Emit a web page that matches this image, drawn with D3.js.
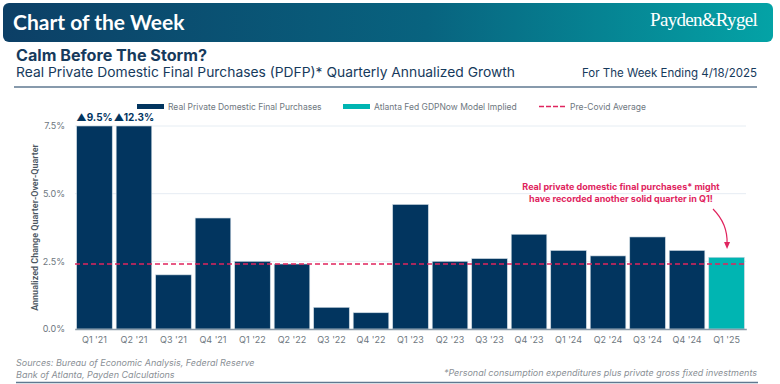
<!DOCTYPE html>
<html>
<head>
<meta charset="utf-8">
<script src="https://cdn.jsdelivr.net/npm/d3@7"></script>
<style>
	body { margin: 0; background: #fff; }
	svg { display: block; font-family: Inter, "Noto Sans", sans-serif; }
</style>
</head>
<body>
<div id="chart"></div>
<script>
// quarters shown on the x axis
const quarters = ["Q1 '21", "Q2 '21", "Q3 '21", "Q4 '21", "Q1 '22", "Q2 '22", "Q3 '22", "Q4 '22",
	"Q1 '23", "Q2 '23", "Q3 '23", "Q4 '23", "Q1 '24", "Q2 '24", "Q3 '24", "Q4 '24", "Q1 '25"];
// real PDFP growth, % annualized (first two go off the chart)
const pdfpValues = [9.5, 12.3, 2.0, 4.1, 2.5, 2.4, 0.8, 0.6, 4.6, 2.5, 2.6, 3.5, 2.9, 2.7, 3.4, 2.9, 2.65];
// which bars come from the Atlanta Fed GDPNow model
const gdpNowFlags = [0, 0, 0, 0, 0, 0, 0, 0, 0, 0, 0, 0, 0, 0, 0, 0, 1];
const preCovidAverage = 2.4;
const yTicks = [0, 2.5, 5.0, 7.5];
const legendLabels = ["Real Private Domestic Final Purchases", "Atlanta Fed GDPNow Model Implied", "Pre-Covid Average"];

const width = 780;
const height = 384;
const navy = "#02355f";
const teal = "#00b5b2";
const pink = "#e0245e";
const grey = "#6e7780";

const svg = d3.select("#chart")
	.append("svg")
	.attr("width", width)
	.attr("height", height);

// header banner
const grad = svg.append("defs").append("linearGradient")
	.attr("id", "hdr")
	.attr("x1", "0%").attr("x2", "100%");
grad.append("stop").attr("offset", "0%").attr("stop-color", "#0c3f66");
grad.append("stop").attr("offset", "55%").attr("stop-color", "#08637f");
grad.append("stop").attr("offset", "100%").attr("stop-color", "#04a3a6");

svg.append("rect")
	.attr("x", 3).attr("y", 3)
	.attr("width", 770).attr("height", 39)
	.attr("rx", 6)
	.attr("fill", "url(#hdr)");

svg.append("text")
	.attr("x", 13).attr("y", 30)
	.attr("fill", "#fff")
	.attr("font-size", 21)
	.attr("font-weight", 700)
	.attr("font-family", "Lato, sans-serif")
	.text("Chart of the Week");

svg.append("text")
	.attr("x", 757).attr("y", 26)
	.attr("text-anchor", "end")
	.attr("fill", "#fff")
	.attr("font-size", 19)
	.attr("font-family", "'Liberation Serif', serif")
	.attr("letter-spacing", -0.7)
	.text("Payden&Rygel");

// titles
svg.append("text")
	.attr("x", 16).attr("y", 61)
	.attr("fill", "#163a5c")
	.attr("font-size", 15.5)
	.attr("font-weight", 700)
	.attr("textLength", 191)
	.attr("lengthAdjust", "spacingAndGlyphs")
	.text("Calm Before The Storm?");

svg.append("text")
	.attr("x", 16).attr("y", 77)
	.attr("fill", "#163a5c")
	.attr("font-size", 13.5)
	.attr("textLength", 499)
	.attr("lengthAdjust", "spacingAndGlyphs")
	.text("Real Private Domestic Final Purchases (PDFP)* Quarterly Annualized Growth");

svg.append("text")
	.attr("x", 757).attr("y", 77)
	.attr("text-anchor", "end")
	.attr("fill", "#163a5c")
	.attr("font-size", 11.5)
	.text("For The Week Ending 4/18/2025");

svg.append("line")
	.attr("x1", 14).attr("x2", 757)
	.attr("y1", 87).attr("y2", 87)
	.attr("stroke", "#5f7890")
	.attr("stroke-width", 1.5);

// scales
const x = d3.scaleBand()
	.domain(quarters)
	.range([74.7, 746.3])
	.paddingInner(0.1)
	.paddingOuter(0.05);

const y = d3.scaleLinear()
	.domain([0, 7.5])
	.range([329, 126]);

// gridlines
svg.append("g")
	.selectAll("line")
	.data(yTicks.slice(1))
	.join("line")
	.attr("x1", 75).attr("x2", 746)
	.attr("y1", (d) => y(d)).attr("y2", (d) => y(d))
	.attr("stroke", "#e6edf3")
	.attr("stroke-width", 1);

// y axis labels
const yAxis = d3.axisLeft(y)
	.tickValues(yTicks)
	.tickFormat((d) => d.toFixed(1) + "%")
	.tickSize(0)
	.tickPadding(0);

svg.append("g")
	.attr("transform", "translate(65,0)")
	.call(yAxis)
	.call((g) => g.select(".domain").remove())
	.selectAll("text")
	.attr("fill", grey)
	.attr("font-size", 9)
	.attr("font-family", "Inter, sans-serif");

svg.append("text")
	.attr("transform", "translate(38," + y(3.75) + ") rotate(-90)")
	.attr("text-anchor", "middle")
	.attr("fill", "#4a5560")
	.attr("font-size", 9)
	.attr("font-weight", 600)
	.attr("font-family", "'Liberation Sans Narrow', 'Roboto', sans-serif")
	.text("Annualized Change Quarter-Over-Quarter");

// bars (clipped at the top of the axis)
svg.append("g")
	.selectAll("rect")
	.data(quarters)
	.join("rect")
	.attr("x", (d) => x(d))
	.attr("width", x.bandwidth())
	.attr("y", (d, i) => y(Math.min(pdfpValues[i], 7.5)))
	.attr("height", (d, i) => y(0) - y(Math.min(pdfpValues[i], 7.5)))
	.attr("fill", (d, i) => gdpNowFlags[i] ? teal : navy)
	.attr("stroke", "#c9d6e0")
	.attr("stroke-width", 0.6);

// off-scale labels
svg.append("g")
	.selectAll("text")
	.data(quarters.filter((d, i) => pdfpValues[i] > 7.5))
	.join("text")
	.attr("x", (d) => x(d) + x.bandwidth() / 2)
	.attr("y", 121)
	.attr("text-anchor", "middle")
	.attr("fill", navy)
	.attr("font-size", 10)
	.attr("font-weight", 700)
	.text((d) => "\u25B2" + pdfpValues[quarters.indexOf(d)].toFixed(1) + "%");

// x axis
const xAxis = d3.axisBottom(x).tickSize(0).tickPadding(8);
svg.append("g")
	.attr("transform", "translate(0," + y(0) + ")")
	.call(xAxis)
	.call((g) => g.select(".domain").attr("stroke", "#8a9aa8").attr("stroke-width", 1.5))
	.selectAll("text")
	.attr("fill", grey)
	.attr("font-size", 9)
	.attr("font-family", "Inter, sans-serif");

// pre-covid average
svg.append("line")
	.attr("x1", 75).attr("x2", 746)
	.attr("y1", y(preCovidAverage)).attr("y2", y(preCovidAverage))
	.attr("stroke", pink)
	.attr("stroke-width", 1.6)
	.attr("stroke-dasharray", "5,3");

// legend
const legendX = [137, 343, 539];
const legend = svg.append("g");
legendLabels.forEach((label, i) => {
	if (i < 2) {
		legend.append("rect")
			.attr("x", legendX[i]).attr("y", 104)
			.attr("width", 27).attr("height", 5)
			.attr("fill", i === 0 ? navy : teal);
	} else {
		legend.append("line")
			.attr("x1", legendX[i]).attr("x2", legendX[i] + 27)
			.attr("y1", 106.5).attr("y2", 106.5)
			.attr("stroke", pink)
			.attr("stroke-width", 1.6)
			.attr("stroke-dasharray", "5,2");
	}
	legend.append("text")
		.attr("x", legendX[i] + 31).attr("y", 110)
		.attr("fill", grey)
		.attr("font-size", 8.5)
		.text(label);
});

// annotation
svg.append("text")
	.attr("text-anchor", "middle")
	.attr("fill", pink)
	.attr("font-size", 9)
	.attr("font-weight", 700)
	.selectAll("tspan")
	.data(["Real private domestic final purchases* might", "have recorded another solid quarter in Q1!"])
	.join("tspan")
	.attr("x", 621)
	.attr("y", (d, i) => 190 + i * 12)
	.text((d) => d);

const tipX = x("Q1 '25") + x.bandwidth() / 2 + 0.5;
svg.append("path")
	.attr("d", "M713,209 Q728,224 " + tipX + ",244")
	.attr("fill", "none")
	.attr("stroke", pink)
	.attr("stroke-width", 1.2);
svg.append("path")
	.attr("d", "M" + (tipX - 3) + ",242 L" + (tipX + 3) + ",242 L" + tipX + ",249 Z")
	.attr("fill", pink);

// footer
svg.append("text")
	.attr("fill", "#8a9096")
	.attr("font-size", 9)
	.attr("font-style", "italic")
	.selectAll("tspan")
	.data(["Sources: Bureau of Economic Analysis, Federal Reserve", "Bank of Atlanta, Payden Calculations"])
	.join("tspan")
	.attr("x", 16)
	.attr("y", (d, i) => 366 + i * 12)
	.text((d) => d);

svg.append("text")
	.attr("x", 757).attr("y", 376)
	.attr("text-anchor", "end")
	.attr("fill", "#8a9096")
	.attr("font-size", 9)
	.attr("font-style", "italic")
	.text("*Personal consumption expenditures plus private gross fixed investments");

svg.append("line")
	.attr("x1", 16).attr("x2", 758)
	.attr("y1", 382.5).attr("y2", 382.5)
	.attr("stroke", "#5f7890")
	.attr("stroke-width", 1.5);
</script>
</body>
</html>
